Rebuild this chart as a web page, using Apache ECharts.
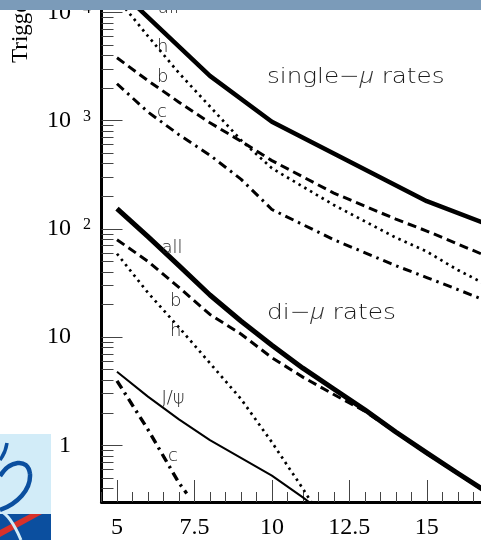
<!DOCTYPE html>
<html>
<head>
<meta charset="utf-8">
<script src="https://cdn.jsdelivr.net/npm/echarts@6/dist/echarts.min.js"></script>
<style>
html, body { margin: 0; padding: 0; background: #fff; }
#chart { width: 481px; height: 540px; }
</style>
</head>
<body>
<div id="chart"></div>
<script>
// Muon trigger rates (log scale) versus pT threshold

// single-muon rates
const ptSingleAll = [5, 8, 10, 15, 17.5];
const rateSingleAll = [16800, 2590, 977, 180, 96];
const ptSingle = [5, 6, 7, 8, 9, 10, 12, 14, 15, 16, 17.5];
const rateSingleH = [13500, 6030, 2750, 1350, 661, 363, 166, 83, 61.7, 41.7, 25.1];
const rateSingleB = [3800, 2340, 1480, 955, 646, 427, 214, 123, 95.5, 72.4, 47.9];
const rateSingleC = [2190, 1200, 741, 479, 288, 151, 79.4, 45.7, 35.5, 27.5, 18.6];

// di-muon rates
const ptDi = [5, 6, 7, 8, 9, 10, 11, 12, 13, 14, 15, 16, 17, 17.5];
const rateDiAll = [154, 84.9, 45.8, 24.5, 14.1, 8.43, 5.17, 3.32, 2.13, 1.33, 0.853, 0.553, 0.362, 0.295];
const rateDiB = [79.4, 50.1, 28.8, 16.2, 10.7, 6.46, 4.27, 2.95, 2.07, 1.32, 0.84, 0.547, 0.358, 0.29];
const ptDiSteep = [5, 6, 7, 8, 9, 10, 11, 12];
const rateDiH = [58.9, 25.7, 12.3, 5.75, 2.69, 1.07, 0.398, 0.141];
const rateDiJpsi = [4.79, 2.82, 1.74, 1.12, 0.767, 0.525, 0.331, 0.20];
const ptDiC = [5, 6, 7, 7.25];
const rateDiC = [3.95, 1.40, 0.45, 0.36];

// axes
const xMin = 4.5, xMax = 16.75;
const yMin = 0.3, yMax = 13000;
const xMajorTicks = [5, 7.5, 10, 12.5, 15];
const yDecades = [1, 10, 100, 1000, 10000];
const yMinorSteps = [2, 3, 4, 5, 6, 7, 8, 9];

const yMinorTicks = [0.4, 0.5, 0.6, 0.7, 0.8, 0.9];
yDecades.slice(0, 4).forEach(d => yMinorSteps.forEach(s => yMinorTicks.push(d * s)));

const pairs = (xs, ys) => xs.map((x, i) => [x, ys[i]]);

const SOLID = 'solid';
const DASH = [9, 5];
const DOT = [2.5, 4.2];
const DASHDOT = [9, 5, 2.5, 5];

function curve(name, xs, ys, width, type) {
  return {
    name: name,
    type: 'line',
    xAxisIndex: 0,
    yAxisIndex: 0,
    data: pairs(xs, ys),
    symbol: 'none',
    clip: true,
    silent: true,
    lineStyle: { color: '#000', width: width, type: type, cap: 'butt', join: 'round' }
  };
}

const log10 = v => Math.log10(v);
const tickLine = { color: '#444', width: 1 };
const serif = 'Liberation Serif';
const sans = 'DejaVu Sans';

function decadeLabel(v) {
  const k = Math.round(v);
  if (k === 0) return '{b|1}{p| }';
  if (k === 1) return '{b|10}{p| }';
  return '{b|10}{s|' + k + '}';
}

function curveLabel(text, x, y) {
  return {
    type: 'text', x: x, y: y, z: 50,
    style: { text: text, fontFamily: sans, fontWeight: 200, fontSize: 18, fill: '#1a1a1a',
             align: 'left', verticalAlign: 'middle' }
  };
}

function groupLabel(prefix, x, y, sx) {
  return {
    type: 'text', x: x, y: y, z: 50, scaleX: sx,
    style: {
      text: '{a|' + prefix + '\u2212}{m|\u03bc}{a| rates}',
      align: 'left', verticalAlign: 'middle',
      rich: {
        a: { fontFamily: sans, fontWeight: 200, fontSize: 22, fill: '#1a1a1a' },
        m: { fontFamily: 'Open Sans', fontWeight: 300, fontStyle: 'italic', fontSize: 22, fill: '#333' }
      }
    }
  };
}

function stroke(x1, y1, cpx1, cpy1, cpx2, cpy2, x2, y2, color, w, z) {
  return {
    type: 'bezierCurve', z: z,
    shape: { x1: x1, y1: y1, cpx1: cpx1, cpy1: cpy1, cpx2: cpx2, cpy2: cpy2, x2: x2, y2: y2 },
    style: { fill: 'none', stroke: color, lineWidth: w }
  };
}

const chart = echarts.init(document.getElementById('chart'), null, { renderer: 'canvas' });

chart.setOption({
  animation: false,
  backgroundColor: '#fff',
  grid: { left: 101.5, top: 0, right: 0, height: 505 },
  xAxis: [
    {
      type: 'value', min: xMin, max: xMax, position: 'bottom',
      axisLine: { onZero: false, lineStyle: { color: '#000', width: 3 } },
      axisTick: { inside: true, length: 22, customValues: xMajorTicks, lineStyle: tickLine },
      axisLabel: { customValues: xMajorTicks, margin: 14, fontFamily: serif, fontSize: 24, color: '#000' },
      splitLine: { show: false }
    },
    {
      type: 'value', min: xMin, max: xMax, interval: 0.5, position: 'bottom',
      axisLine: { show: false, onZero: false },
      axisTick: { inside: true, length: 10, lineStyle: tickLine },
      axisLabel: { show: false },
      splitLine: { show: false }
    }
  ],
  yAxis: [
    {
      type: 'log', logBase: 10, min: yMin, max: yMax, position: 'left', show: false,
      axisLine: { onZero: false }, splitLine: { show: false }
    },
    {
      type: 'value', min: log10(yMin), max: log10(yMax), position: 'left',
      axisLine: { onZero: false, lineStyle: { color: '#000', width: 3 } },
      axisTick: { inside: true, length: 21, customValues: yDecades.map(log10), lineStyle: tickLine },
      axisLabel: {
        customValues: yDecades.map(log10), margin: 10.5, formatter: decadeLabel,
        rich: {
          b: { fontFamily: serif, fontSize: 24, lineHeight: 24, color: '#000' },
          s: { fontFamily: serif, fontSize: 16, lineHeight: 16, color: '#000', width: 8,
               padding: [0, 0, 2, 12], verticalAlign: 'top' },
          p: { fontFamily: serif, fontSize: 16, width: 20 }
        }
      },
      splitLine: { show: false }
    },
    {
      type: 'value', min: log10(yMin), max: log10(yMax), position: 'left',
      axisLine: { show: false, onZero: false },
      axisTick: { inside: true, length: 12, customValues: yMinorTicks.map(log10), lineStyle: tickLine },
      axisLabel: { show: false },
      splitLine: { show: false }
    }
  ],
  series: [
    curve('single all', ptSingleAll, rateSingleAll, 4.5, SOLID),
    curve('single h', ptSingle, rateSingleH, 2.7, DOT),
    curve('single b', ptSingle, rateSingleB, 3, DASH),
    curve('single c', ptSingle, rateSingleC, 3, DASHDOT),
    curve('di all', ptDi, rateDiAll, 5, SOLID),
    curve('di b', ptDi, rateDiB, 3, DASH),
    curve('di h', ptDiSteep, rateDiH, 2.7, DOT),
    curve('di J/psi', ptDiSteep, rateDiJpsi, 2, SOLID),
    curve('di c', ptDiC, rateDiC, 3.4, DASHDOT)
  ],
  graphic: [
    // curve annotations
    curveLabel('all', 158, 8),
    curveLabel('h', 157, 47.5),
    curveLabel('b', 157, 77.5),
    curveLabel('c', 157, 112.5),
    curveLabel('all', 161.5, 248),
    curveLabel('b', 170, 301),
    curveLabel('h', 170, 331.5),
    curveLabel('J/\u03c8', 161.5, 398),
    curveLabel('c', 168, 456),
    groupLabel('single', 267, 77, 1.12),
    groupLabel('di', 267, 313, 1.13),
    // y axis title
    {
      type: 'text', x: 21, y: 63, rotation: Math.PI / 2, z: 40,
      style: { text: 'Trigger rate (Hz)', fontFamily: serif, fontSize: 23, fill: '#000',
               align: 'left', verticalAlign: 'middle' }
    },
    // header band
    { type: 'rect', z: 100, shape: { x: 0, y: 0, width: 481, height: 10 }, style: { fill: '#7b9bb9' } },
    // corner logo
    { type: 'rect', z: 60, shape: { x: 0, y: 434, width: 51, height: 106 }, style: { fill: '#d2ecf8' } },
    { type: 'rect', z: 61, shape: { x: 0, y: 514, width: 51, height: 26 }, style: { fill: '#0b4f9f' } },
    { type: 'polygon', z: 62, shape: { points: [[0, 530], [0, 537], [42, 514], [30, 514]] }, style: { fill: '#d8312a' } },
    stroke(0, 511, 8, 514, 15, 526, 21, 540, '#d2ecf8', 3, 63),
    stroke(7, 443, 6, 450, 3, 456, 0, 460, '#0b4f9f', 3.5, 63),
    stroke(0, 476, 9, 461, 28, 457, 30, 474, '#0b4f9f', 4.5, 63),
    stroke(30, 474, 31, 490, 17, 504, 0, 510, '#0b4f9f', 4.5, 63)
  ]
});
</script>
</body>
</html>
